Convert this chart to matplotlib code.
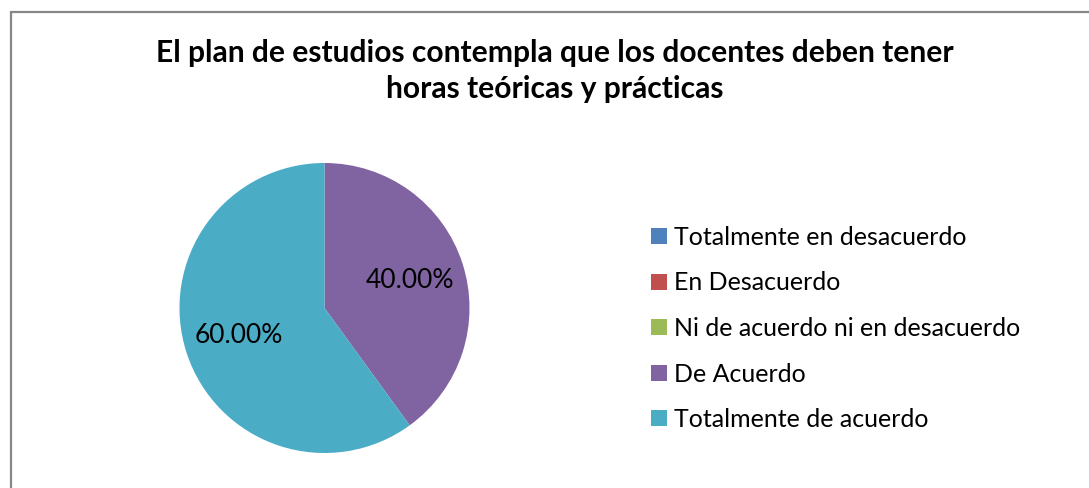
import matplotlib
matplotlib.use("Agg")
import matplotlib.pyplot as plt
from matplotlib.patches import Rectangle, Patch

categories = ["Totalmente en desacuerdo", "En Desacuerdo",
              "Ni de acuerdo ni en desacuerdo", "De Acuerdo",
              "Totalmente de acuerdo"]
values = [0.0, 0.0, 0.0, 40.0, 60.0]
colors = ["#4F81BD", "#C0504D", "#9BBB59", "#8064A2", "#4BACC6"]
title_lines = ["El plan de estudios contempla que los docentes deben tener",
               "horas teóricas y prácticas"]

FONT = "Lato"
W, H = 1089, 488
fig = plt.figure(figsize=(W / 100, H / 100), dpi=100)
fig.patch.set_facecolor("white")

# outer border (only left/top visible)
fig.patches.append(Rectangle((10.5 / W, -0.1), 1.2, (H - 12.5) / H + 0.1,
                             transform=fig.transFigure, fill=False,
                             edgecolor="#878787", linewidth=1.6))

cx, cy, r = 324.5, H - 308, 145
ax = fig.add_axes([(cx - r) / W, (cy - r) / H, 2 * r / W, 2 * r / H])

def fmt(p):
    return f"{p:.2f}%" if p > 0.01 else ""

wedges, texts, autotexts = ax.pie(values, colors=colors, startangle=90,
                                  counterclock=False, radius=1,
                                  autopct=fmt, pctdistance=0.62,
                                  wedgeprops=dict(linewidth=0),
                                  textprops=dict(fontsize=19, family=FONT,
                                                 color="black"))
ax.set_xlim(-1, 1)
ax.set_ylim(-1, 1)
ax.axis("off")

for line, base in zip(title_lines, [62, 98]):
    fig.text(555 / W, 1 - base / H, line, ha="center", va="baseline",
             fontsize=21.6, fontweight="bold", family=FONT)

handles = [Patch(facecolor=c, edgecolor="none") for c in colors]
fig.legend(handles, categories, loc="upper left",
           bbox_to_anchor=(651 / W, 1 - 226 / H), frameon=False,
           prop=dict(family=FONT, size=18), handlelength=0.62,
           handleheight=0.62, handletextpad=0.3, labelspacing=0.9,
           borderaxespad=0, borderpad=0)

fig.savefig("out.png", dpi=100, facecolor="white")
